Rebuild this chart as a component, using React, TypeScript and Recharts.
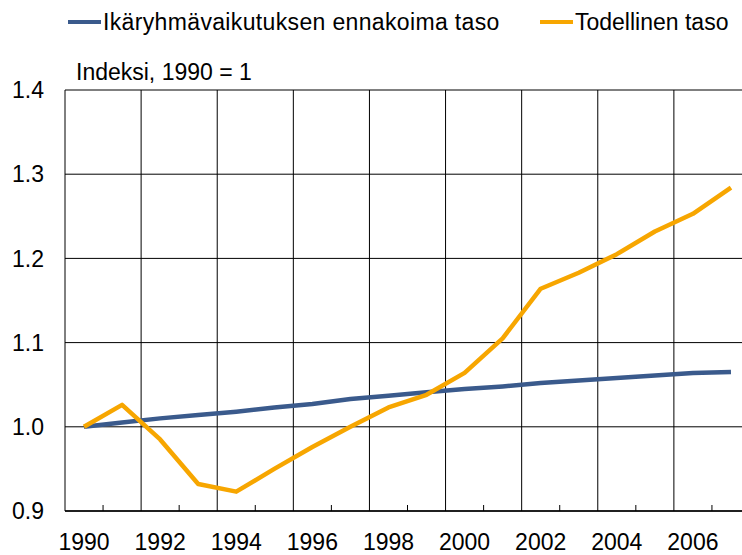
import React from 'react';
import { LineChart, Line, XAxis, YAxis, CartesianGrid } from 'recharts';

const years = [
  1990, 1991, 1992, 1993, 1994, 1995, 1996, 1997, 1998,
  1999, 2000, 2001, 2002, 2003, 2004, 2005, 2006, 2007,
];
const ageEffect = [
  1.0, 1.005, 1.01, 1.014, 1.018, 1.023, 1.027, 1.033, 1.037,
  1.041, 1.045, 1.048, 1.052, 1.055, 1.058, 1.061, 1.064, 1.065,
];
const actual = [
  1.0, 1.026, 0.985, 0.932, 0.923, 0.95, 0.976, 1.0, 1.023,
  1.038, 1.064, 1.105, 1.164, 1.183, 1.205, 1.232, 1.253, 1.284,
];
const yearLabels = [1990, 1992, 1994, 1996, 1998, 2000, 2002, 2004, 2006];
const minorTicks = [
  1990.5, 1992.5, 1994.5, 1996.5, 1998.5, 2000.5, 2002.5, 2004.5, 2006.5,
];
const gridYears = [1991.5, 1993.5, 1995.5, 1997.5, 1999.5, 2001.5, 2003.5, 2005.5];
const yTicks = [0.9, 1.0, 1.1, 1.2, 1.3, 1.4];

const series = [
  { key: 'ageEffect', name: 'Ikäryhmävaikutuksen ennakoima taso', color: '#3A5A8C' },
  { key: 'actual', name: 'Todellinen taso', color: '#F7A600' },
];

const data = years.map((year, i) => ({
  year,
  ageEffect: ageEffect[i],
  actual: actual[i],
}));

const FONT = '"Liberation Sans", Arial, sans-serif';
const legendLeft = [68, 540];

// labels on even years, short inward tick marks on the other band edges
const XTick = (props: any) => {
  const { x, y, payload } = props;
  const v = payload.value;
  if (Number.isInteger(v)) {
    return (
      <text x={x} y={y + 39} textAnchor="middle" fontSize={23} fill="#000" fontFamily={FONT}>
        {v}
      </text>
    );
  }
  return <line x1={x} x2={x} y1={y} y2={y - 6} stroke="#000" strokeWidth={1} />;
};

export default function App() {
  return (
    <div
      style={{
        position: 'fixed',
        left: 0,
        top: 0,
        width: 742,
        height: 555,
        overflow: 'hidden',
        background: '#fff',
        fontFamily: FONT,
      }}
    >
      {series.map((s, i) => (
        <div
          key={s.key}
          style={{
            position: 'absolute',
            left: legendLeft[i],
            top: 8,
            display: 'flex',
            alignItems: 'center',
            fontSize: 23,
            color: '#000',
            whiteSpace: 'nowrap',
            letterSpacing: i === 0 ? 0.35 : 0,
          }}
        >
          <span style={{ display: 'inline-block', width: 33, height: 4, background: s.color, marginRight: 2 }} />
          <span style={{ lineHeight: '28px' }}>{s.name}</span>
        </div>
      ))}
      <div style={{ position: 'absolute', left: 76, top: 58, fontSize: 23, color: '#000', lineHeight: '28px' }}>
        Indeksi, 1990 = 1
      </div>
      <LineChart
        width={750}
        height={555}
        data={data}
        margin={{ top: 90, right: 0, bottom: 0, left: 0 }}
      >
        <CartesianGrid
          stroke="#000"
          strokeWidth={1}
          verticalValues={gridYears}
        />
        <XAxis
          dataKey="year"
          type="number"
          domain={[1989.5, 2007.5]}
          ticks={[...yearLabels, ...minorTicks].sort((a, b) => a - b)}
          interval={0}
          tick={<XTick />}
          tickLine={false}
          tickSize={0}
          tickMargin={0}
          height={44}
          axisLine={{ stroke: '#000', strokeWidth: 1.5 }}
          allowDataOverflow
        />
        <YAxis
          type="number"
          domain={[0.9, 1.4]}
          ticks={yTicks}
          interval={0}
          width={65}
          tickLine={false}
          tickMargin={15}
          tickFormatter={(v: number) => v.toFixed(1)}
          tick={{ fontSize: 23, fill: '#000', fontFamily: FONT }}
          axisLine={{ stroke: '#000', strokeWidth: 1 }}
          allowDataOverflow
        />
        {series.map((s) => (
          <Line
            key={s.key}
            type="linear"
            dataKey={s.key}
            name={s.name}
            stroke={s.color}
            strokeWidth={4.5}
            dot={false}
            activeDot={false}
            strokeLinejoin="round"
            isAnimationActive={false}
          />
        ))}
      </LineChart>
    </div>
  );
}
